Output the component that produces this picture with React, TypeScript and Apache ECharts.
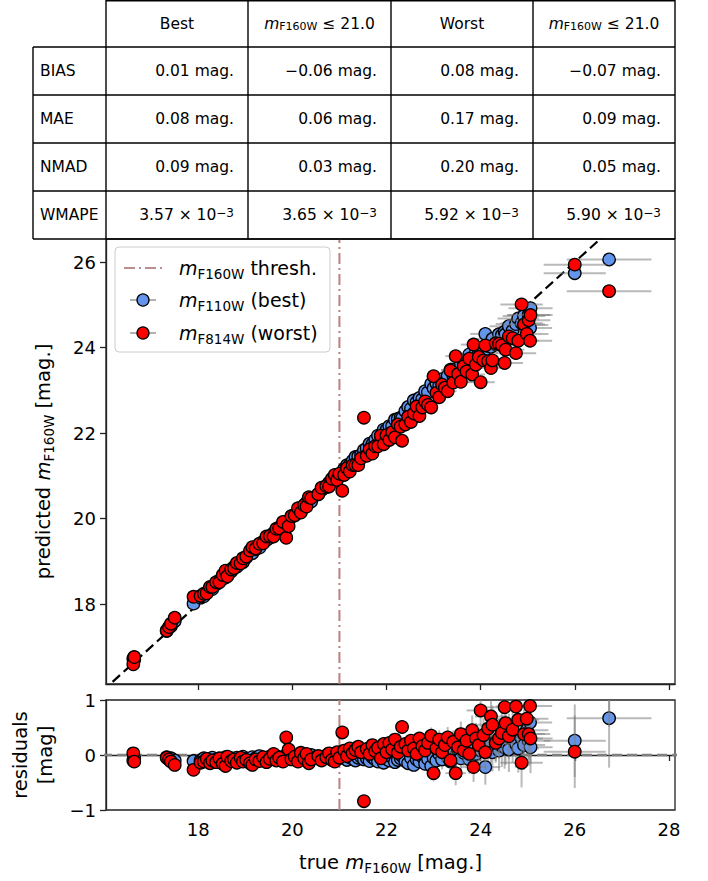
import React, { useEffect, useRef } from 'react';
import * as echarts from 'echarts';

// ---------------- data ----------------
const threshold = 21.0;

const trueMag = [
  16.62, 16.64, 17.33, 17.38, 17.42, 17.5, 17.9, 18.05, 18.12, 18.18,
  18.25, 18.3, 18.38, 18.45, 18.52, 18.58, 18.62, 18.7, 18.76, 18.82,
  18.9, 18.95, 19.02, 19.1, 19.15, 19.22, 19.3, 19.38, 19.45, 19.52,
  19.6, 19.66, 19.72, 19.8, 19.87, 19.92, 19.98, 20.05, 20.12, 20.18,
  20.25, 20.3, 20.35, 20.4, 20.55, 20.62, 20.72, 20.78, 20.84, 20.9,
  20.95, 21.0, 21.06, 21.1, 21.16, 21.22, 21.28, 21.34, 21.4, 21.46,
  21.52, 21.58, 21.64, 21.7, 21.76, 21.82, 21.88, 21.94, 22.0, 22.06,
  22.12, 22.18, 22.24, 22.3, 22.33, 22.4, 22.46, 22.52, 22.58, 22.64,
  22.7, 22.76, 22.82, 22.88, 22.95, 23.0, 23.06, 23.12, 23.18, 23.24,
  23.3, 23.36, 23.42, 23.47, 23.52, 23.58, 23.64, 23.7, 23.76, 23.82,
  23.85, 23.9, 23.96, 24.0, 24.06, 24.1, 24.16, 24.22, 24.25, 24.32,
  24.39, 24.45, 24.51, 24.53, 24.6, 24.68, 24.75, 24.8, 24.87, 24.92,
  24.98, 25.02, 25.05, 25.06, 26.0, 26.73,
];

// residual = true - predicted
const resBest = [
  -0.10, -0.06, -0.04, -0.08, -0.06, -0.10, -0.11, -0.10, -0.06, -0.09,
  -0.12, -0.05, -0.08, -0.10, -0.07, -0.04, -0.09, -0.06, -0.11, -0.05,
  -0.08, -0.03, -0.07, -0.09, -0.04, -0.06, -0.02, -0.08, -0.05, -0.03,
  -0.06, -0.02, -0.07, -0.04, 0.00, -0.03, -0.06, -0.02, -0.05, 0.01,
  -0.04, -0.07, -0.03, 0.00, -0.02, -0.05, -0.01, -0.06, -0.03, -0.08,
  -0.04, -0.02, 0.01, -0.06, -0.09, -0.04, -0.07, -0.10, -0.05, -0.03,
  -0.08, -0.06, -0.11, -0.04, -0.08, -0.12, -0.05, -0.14, -0.07, -0.10,
  -0.04, -0.13, -0.09, -0.06, -0.02, -0.11, -0.15, -0.05, -0.18, -0.08,
  -0.12, -0.03, -0.16, -0.07, -0.20, -0.05, -0.10, 0.02, -0.08, 0.05,
  -0.04, -0.12, 0.08, -0.02, 0.10, -0.06, 0.04, 0.12, -0.08, 0.06,
  0.15, 0.02, 0.10, 0.08, 0.18, -0.22, 0.12, 0.20, 0.05, 0.25,
  0.08, 0.16, 0.14, 0.22, 0.10, 0.28, 0.20, 0.12, 0.30, 0.18,
  0.45, 0.26, 0.59, 0.14, 0.26, 0.67,
];

const resWorst = [
  0.03, -0.12, -0.05, -0.08, -0.12, -0.18, -0.27, -0.14, -0.12, -0.07,
  -0.15, -0.10, -0.13, -0.06, -0.16, -0.20, -0.03, -0.11, -0.08, -0.14,
  -0.05, -0.12, -0.09, -0.15, -0.18, -0.08, -0.11, -0.04, -0.13, -0.07,
  0.02, -0.10, -0.05, -0.12, 0.32, 0.10, -0.08, -0.03, -0.12, 0.04,
  -0.06, 0.02, -0.15, -0.08, -0.02, -0.10, -0.04, 0.03, -0.09, -0.12,
  0.05, -0.05, 0.41, 0.08, -0.02, 0.12, 0.03, 0.09, 0.15, 0.05,
  -0.84, 0.11, 0.02, 0.18, 0.07, 0.13, -0.06, 0.20, 0.05, 0.22,
  0.10, 0.28, 0.04, 0.15, 0.51, 0.20, 0.08, 0.26, 0.12, 0.02,
  0.30, 0.16, 0.08, 0.22, 0.35, -0.33, 0.12, 0.28, 0.05, 0.18,
  0.32, -0.10, 0.24, -0.33, 0.14, 0.38, 0.08, 0.26, 0.02, 0.45,
  -0.22, 0.30, 0.18, 0.81, 0.36, 0.05, 0.48, 0.70, 0.55, 0.22,
  0.30, 0.40, 0.87, 0.58, 0.34, 0.46, 0.88, 0.64, -0.14, 0.38,
  0.66, 0.38, 0.89, 0.30, 0.06, 1.41,
];

const magErr = [
  0.02, 0.02, 0.02, 0.02, 0.02, 0.02, 0.02, 0.02, 0.02, 0.02,
  0.02, 0.02, 0.02, 0.02, 0.02, 0.02, 0.02, 0.02, 0.02, 0.02,
  0.02, 0.02, 0.02, 0.02, 0.02, 0.02, 0.02, 0.02, 0.02, 0.02,
  0.03, 0.03, 0.03, 0.03, 0.03, 0.03, 0.03, 0.03, 0.03, 0.03,
  0.03, 0.03, 0.03, 0.03, 0.04, 0.04, 0.04, 0.04, 0.04, 0.04,
  0.04, 0.04, 0.04, 0.04, 0.05, 0.05, 0.05, 0.05, 0.05, 0.05,
  0.05, 0.05, 0.06, 0.06, 0.06, 0.06, 0.06, 0.07, 0.07, 0.07,
  0.08, 0.08, 0.08, 0.09, 0.09, 0.09, 0.10, 0.10, 0.11, 0.11,
  0.12, 0.12, 0.13, 0.14, 0.15, 0.15, 0.16, 0.17, 0.18, 0.18,
  0.19, 0.20, 0.21, 0.22, 0.22, 0.23, 0.24, 0.25, 0.26, 0.27,
  0.27, 0.28, 0.29, 0.30, 0.31, 0.32, 0.33, 0.34, 0.35, 0.36,
  0.37, 0.38, 0.39, 0.40, 0.41, 0.42, 0.43, 0.44, 0.45, 0.45,
  0.46, 0.46, 0.47, 0.47, 0.66, 0.90,
];

const rowLabels = ['BIAS', 'MAE', 'NMAD', 'WMAPE'];
const colHeaders = ['Best', 'CUT', 'Worst', 'CUT'];
const biasVals = [0.01, -0.06, 0.08, -0.07];
const maeVals = [0.08, 0.06, 0.17, 0.09];
const nmadVals = [0.09, 0.03, 0.2, 0.05];
const wmapeVals = [3.57, 3.65, 5.92, 5.9]; // x 10^-3

const xTicks = [18, 20, 22, 24, 26, 28];
const yTicks = [18, 20, 22, 24, 26];

// ---------------- layout ----------------
const FONT = 'DejaVu Sans';
const X_MIN = 16.04, X_MAX = 28.13;
const Y_MIN = 16.13, Y_MAX = 26.54;
const GL = 106, GW = 569;
const colX = [33, 106, 248, 391, 533, 675];
const rowY = [0, 47, 95, 143, 191, 239];

const minus = (s: string) => s.replace('-', '\u2212');

const LBL = 19.5;
const richAxis = {
  t: { fontSize: LBL, fontFamily: FONT, color: '#000', lineHeight: 25 },
  i: { fontSize: LBL, fontFamily: FONT, fontStyle: 'italic', color: '#000', lineHeight: 25 },
  s: { fontSize: 13.5, fontFamily: FONT, color: '#000', lineHeight: 15, verticalAlign: 'bottom' },
};

const errRender = (vertical: boolean) => (params: any, api: any) => {
  const x = api.value(0), y = api.value(1), xe = api.value(2), ye = api.value(3);
  const cs = params.coordSys;
  const clamp = (v: number, lo: number, hi: number) => Math.max(lo, Math.min(hi, v));
  const style = { stroke: 'rgba(128,128,128,0.55)', lineWidth: 2 };
  const children: any[] = [];
  const c = api.coord([x, y]);
  const l = api.coord([x - xe, y]);
  const r = api.coord([x + xe, y]);
  if (c[1] >= cs.y && c[1] <= cs.y + cs.height) {
    children.push({
      type: 'line',
      shape: { x1: clamp(l[0], cs.x, cs.x + cs.width), y1: c[1], x2: clamp(r[0], cs.x, cs.x + cs.width), y2: c[1] },
      style,
    });
  }
  if (vertical) {
    const t = api.coord([x, y + ye]);
    const b = api.coord([x, y - ye]);
    const y1 = clamp(t[1], cs.y, cs.y + cs.height);
    const y2 = clamp(b[1], cs.y, cs.y + cs.height);
    if (y2 > y1 + 0.5) {
      children.push({ type: 'line', shape: { x1: c[0], y1, x2: c[0], y2 }, style });
    }
  }
  return { type: 'group', children };
};

function buildTable() {
  const els: any[] = [];
  const ls = { stroke: '#000', lineWidth: 1.4 };
  els.push({ type: 'line', shape: { x1: colX[1], y1: 0.7, x2: colX[5], y2: 0.7 }, style: ls, z: 10 });
  for (let r = 1; r < rowY.length; r++) {
    els.push({ type: 'line', shape: { x1: colX[0], y1: rowY[r], x2: colX[5], y2: rowY[r] }, style: ls, z: 10 });
  }
  els.push({ type: 'line', shape: { x1: colX[0], y1: rowY[1], x2: colX[0], y2: rowY[5] }, style: ls, z: 10 });
  for (let c = 1; c < colX.length; c++) {
    els.push({ type: 'line', shape: { x1: colX[c], y1: 0, x2: colX[c], y2: rowY[5] }, style: ls, z: 10 });
  }
  const rich = {
    t: { fontSize: 15.5, fontFamily: FONT, fill: '#000', color: '#000' },
    i: { fontSize: 15.5, fontFamily: FONT, fontStyle: 'italic', fill: '#000', color: '#000' },
    s: { fontSize: 11, fontFamily: FONT, fill: '#000', color: '#000', verticalAlign: 'bottom', lineHeight: 12 },
    sup: { fontSize: 12, fontFamily: FONT, fill: '#000', color: '#000', verticalAlign: 'top', lineHeight: 13 },
  };
  const text = (x: number, y: number, t: string, align: string) => ({
    type: 'text', x, y, z: 11,
    style: { text: t, align, verticalAlign: 'middle', fontSize: 15.5, fontFamily: FONT, fill: '#000', rich },
  });
  colHeaders.forEach((h, c) => {
    const cx = (colX[c + 1] + colX[c + 2]) / 2;
    const t = h === 'CUT' ? `{i|m}{s|F160W}{t| \u2264 ${threshold.toFixed(1)}}` : `{t|${h}}`;
    els.push(text(cx, (rowY[0] + rowY[1]) / 2, t, 'center'));
  });
  const rows = [biasVals, maeVals, nmadVals];
  rowLabels.forEach((lab, r) => {
    const cy = (rowY[r + 1] + rowY[r + 2]) / 2;
    els.push(text(colX[0] + 7, cy, `{t|${lab}}`, 'left'));
    for (let c = 0; c < 4; c++) {
      const right = colX[c + 2] - 14;
      let t: string;
      if (r < 3) t = `{t|${minus(rows[r][c].toFixed(2))} mag.}`;
      else t = `{t|${wmapeVals[c].toFixed(2)} \u00d7 10}{sup|\u22123}`;
      els.push(text(right, cy, t, 'right'));
    }
  });
  return els;
}

function buildLegend() {
  const rich = {
    t: { fontSize: 19, fontFamily: FONT, fill: '#000', color: '#000', lineHeight: 25 },
    i: { fontSize: 19, fontFamily: FONT, fontStyle: 'italic', fill: '#000', color: '#000', lineHeight: 25 },
    s: { fontSize: 13.5, fontFamily: FONT, fill: '#000', color: '#000', lineHeight: 15, verticalAlign: 'bottom' },
  };
  const els: any[] = [];
  els.push({ type: 'rect', shape: { x: 115, y: 247, width: 215, height: 105, r: 4 }, style: { fill: 'rgba(255,255,255,0.85)', stroke: '#cccccc', lineWidth: 1 }, z: 20 });
  els.push({ type: 'line', shape: { x1: 124, y1: 268, x2: 163, y2: 268 }, style: { stroke: '#bc8f8f', lineWidth: 2, lineDash: [11, 4, 2, 4] }, z: 21 });
  const entries = [
    { y: 300, color: '#6495ed', label: '{i|m}{s|F110W}{t| (best)}' },
    { y: 333, color: '#ff0000', label: '{i|m}{s|F814W}{t| (worst)}' },
  ];
  entries.forEach((e) => {
    els.push({ type: 'line', shape: { x1: 130, y1: e.y, x2: 156, y2: e.y }, style: { stroke: 'rgba(128,128,128,0.6)', lineWidth: 2 }, z: 21 });
    els.push({ type: 'circle', shape: { cx: 143, cy: e.y, r: 6 }, style: { fill: e.color, stroke: '#000', lineWidth: 1.3 }, z: 22 });
    els.push({ type: 'text', x: 179, y: e.y, z: 22, style: { text: e.label, align: 'left', verticalAlign: 'middle', rich } });
  });
  els.push({ type: 'text', x: 179, y: 268, z: 22, style: { text: '{i|m}{s|F160W}{t| thresh.}', align: 'left', verticalAlign: 'middle', rich } });
  return els;
}

export default function App() {
  const ref = useRef<HTMLDivElement>(null);
  useEffect(() => {
    if (!ref.current) return;
    const chart = echarts.init(ref.current, undefined, { renderer: 'svg' });

    const predBest = trueMag.map((t, i) => +(t - resBest[i]).toFixed(3));
    const predWorst = trueMag.map((t, i) => +(t - resWorst[i]).toFixed(3));
    const mainBest = trueMag.map((t, i) => [t, predBest[i], magErr[i], 0]);
    const mainWorst = trueMag.map((t, i) => [t, predWorst[i], magErr[i], 0]);
    const resB = trueMag.map((t, i) => [t, resBest[i], magErr[i], magErr[i]]);
    const resW = trueMag.map((t, i) => [t, resWorst[i], magErr[i], magErr[i]]);

    const axisLine = { show: true, lineStyle: { color: '#222', width: 1.3 } };
    const tickLabel = { color: '#000', fontSize: 18, fontFamily: FONT };
    const SYM = 12.5;

    const scatterStyle = (color: string) => ({ color, borderColor: '#000', borderWidth: 1.3, opacity: 1 });

    const option: any = {
      animation: false,
      backgroundColor: '#fff',
      grid: [
        { left: GL, top: 239, width: GW, height: 445, show: true, borderColor: '#222', borderWidth: 1.3, backgroundColor: 'transparent' },
        { left: GL, top: 700, width: GW, height: 110, show: true, borderColor: '#222', borderWidth: 1.3, backgroundColor: 'transparent' },
      ],
      xAxis: [
        {
          type: 'value', gridIndex: 0, min: X_MIN, max: X_MAX,
          axisLine, splitLine: { show: false },
          axisTick: { show: true, length: 6, lineStyle: { color: '#222', width: 1.3 }, customValues: xTicks },
          axisLabel: { show: false, customValues: xTicks },
        },
        {
          type: 'value', gridIndex: 1, min: X_MIN, max: X_MAX,
          axisLine, splitLine: { show: false },
          axisTick: { show: true, length: 6, lineStyle: { color: '#222', width: 1.3 }, customValues: xTicks },
          axisLabel: { ...tickLabel, margin: 10, customValues: xTicks, formatter: (v: number) => minus(String(v)) },
          name: '{t|true }{i|m}{s|F160W}{t| [mag.]}',
          nameLocation: 'middle', nameGap: 40,
          nameTextStyle: { rich: richAxis },
        },
      ],
      yAxis: [
        {
          type: 'value', gridIndex: 0, min: Y_MIN, max: Y_MAX,
          axisLine, splitLine: { show: false },
          axisTick: { show: true, length: 6, lineStyle: { color: '#222', width: 1.3 }, customValues: yTicks },
          axisLabel: { ...tickLabel, margin: 10, customValues: yTicks },
          name: '{t|predicted }{i|m}{s|F160W}{t| [mag.]}',
          nameLocation: 'middle', nameGap: 50, nameRotate: 90,
          nameTextStyle: { rich: richAxis },
        },
        {
          type: 'value', gridIndex: 1, min: -1, max: 1, interval: 1,
          axisLine, splitLine: { show: false },
          axisTick: { show: true, length: 6, lineStyle: { color: '#222', width: 1.3 } },
          axisLabel: { ...tickLabel, margin: 10, formatter: (v: number) => minus(String(v)) },
          name: '{t|residuals}\n{t|[mag]}',
          nameLocation: 'middle', nameGap: 48, nameRotate: 90,
          nameTextStyle: { rich: richAxis },
        },
      ],
      series: [
        {
          type: 'line', xAxisIndex: 0, yAxisIndex: 0, data: [[15, 15], [29, 29]],
          symbol: 'none', silent: true, clip: true, z: 1,
          lineStyle: { color: '#000', width: 2.2, type: [10, 5] },
        },
        {
          type: 'line', xAxisIndex: 0, yAxisIndex: 0, data: [[threshold, Y_MIN], [threshold, Y_MAX]],
          symbol: 'none', silent: true, z: 1,
          lineStyle: { color: '#bc8080', width: 2, type: [11, 4, 2, 4] },
        },
        {
          type: 'line', xAxisIndex: 1, yAxisIndex: 1, data: [[threshold, -1], [threshold, 1]],
          symbol: 'none', silent: true, z: 1,
          lineStyle: { color: '#bc8080', width: 2, type: [11, 4, 2, 4] },
        },
        {
          type: 'line', xAxisIndex: 1, yAxisIndex: 1, data: [[15, 0], [29, 0]],
          symbol: 'none', silent: true, clip: true, z: 1,
          lineStyle: { color: '#808080', width: 2.4, type: [10, 5] },
        },
        { type: 'custom', xAxisIndex: 0, yAxisIndex: 0, data: mainBest, renderItem: errRender(false), encode: { x: 0, y: 1 }, z: 2, silent: true },
        { type: 'scatter', xAxisIndex: 0, yAxisIndex: 0, data: mainBest.map((d) => [d[0], d[1]]), symbolSize: SYM, itemStyle: scatterStyle('#6495ed'), z: 3 },
        { type: 'custom', xAxisIndex: 0, yAxisIndex: 0, data: mainWorst, renderItem: errRender(false), encode: { x: 0, y: 1 }, z: 4, silent: true },
        { type: 'scatter', xAxisIndex: 0, yAxisIndex: 0, data: mainWorst.map((d) => [d[0], d[1]]), symbolSize: SYM, itemStyle: scatterStyle('#ff0000'), z: 5 },
        { type: 'custom', xAxisIndex: 1, yAxisIndex: 1, data: resB, renderItem: errRender(true), encode: { x: 0, y: 1 }, z: 2, silent: true },
        { type: 'scatter', xAxisIndex: 1, yAxisIndex: 1, data: resB.map((d) => [d[0], d[1]]), symbolSize: SYM, itemStyle: scatterStyle('#6495ed'), z: 3, clip: true },
        { type: 'custom', xAxisIndex: 1, yAxisIndex: 1, data: resW, renderItem: errRender(true), encode: { x: 0, y: 1 }, z: 4, silent: true },
        { type: 'scatter', xAxisIndex: 1, yAxisIndex: 1, data: resW.map((d) => [d[0], d[1]]), symbolSize: SYM, itemStyle: scatterStyle('#ff0000'), z: 5, clip: true },
      ],
      graphic: [...buildTable(), ...buildLegend()],
    };
    chart.setOption(option);
    return () => chart.dispose();
  }, []);

  return (
    <div
      ref={ref}
      style={{ position: 'absolute', left: 0, top: 0, width: 708, height: 881, background: '#fff' }}
    />
  );
}
